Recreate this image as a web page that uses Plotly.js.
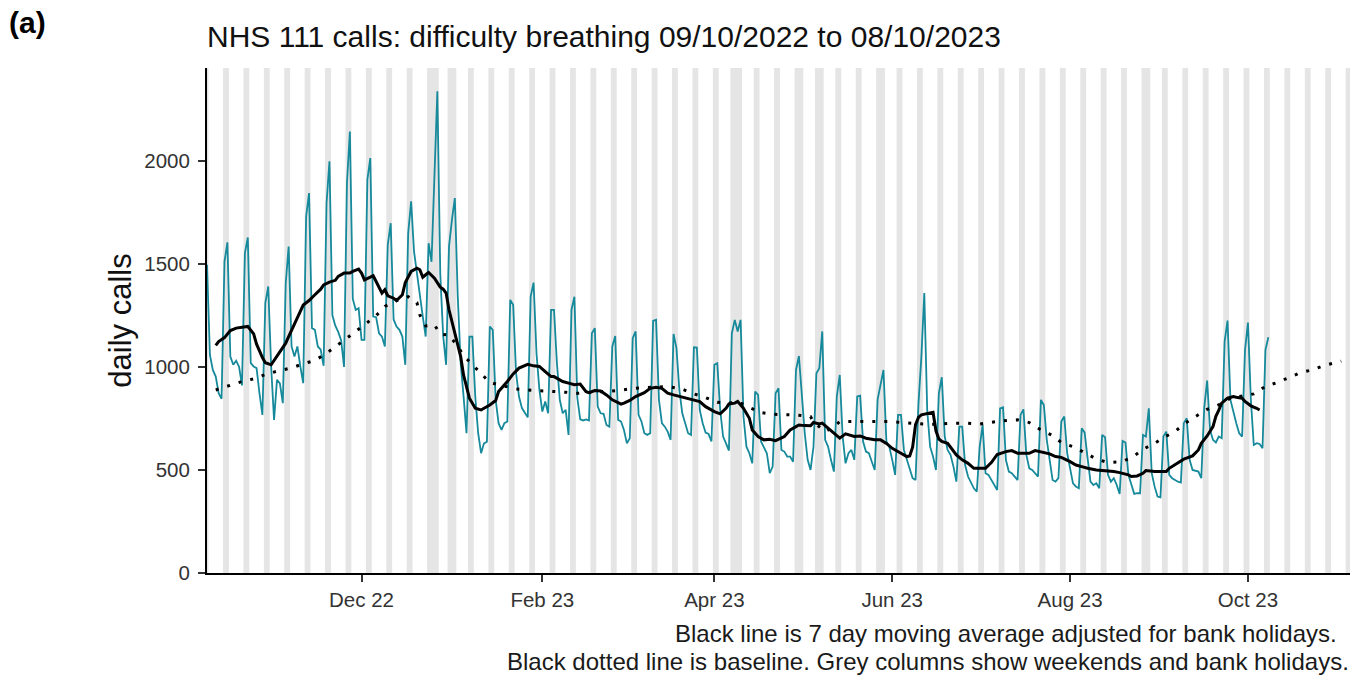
<!DOCTYPE html>
<html>
<head>
<meta charset="utf-8">
<script src="https://cdn.plot.ly/plotly-3.0.1.min.js"></script>
<style>
html,body{margin:0;padding:0;background:#ffffff;}
#chart{width:1362px;height:675px;}
</style>
</head>
<body>
<div id="chart"></div>
<script>
// ---------------- DATA ----------------
// First day of the daily series (Sunday 9 Oct 2022) and the axis window
const seriesStart = '2022-10-09';
const axisStart = '2022-10-09';
const axisEnd = '2023-11-05';

// Daily NHS 111 calls, difficulty breathing. First value = Sun 9 Oct 2022,
// then one row per week (Mon..Sun), last value = Sun 8 Oct 2023
const dailyCalls = [
  1495,
  1058, 985, 953, 872, 845, 1511, 1604,
  1050, 1010, 1030, 1000, 910, 1552, 1628,
  1018, 1002, 994, 872, 767, 1309, 1390,
  1000, 743, 937, 920, 824, 1406, 1584,
  1099, 1050, 1099, 1002, 921, 1730, 1843,
  1188, 1180, 1099, 1083, 1005, 1794, 1997,
  1250, 1200, 1170, 1130, 1000, 1892, 2142,
  1330, 1277, 1285, 1131, 1131, 1908, 2013,
  1244, 1241, 1163, 1147, 1099, 1592, 1697,
  1230, 1196, 1180, 1147, 1010, 1649, 1803,
  1560, 1455, 1341, 1244, 1147, 1600, 1510,
  1900, 2337, 1450, 1150, 1010, 1584, 1713,
  1819, 1341, 1018, 856, 678, 1147, 1147,
  856, 678, 581, 629, 637, 1196, 1180,
  840, 727, 694, 727, 735, 1325, 1301,
  969, 856, 800, 775, 755, 1341, 1409,
  1066, 888, 783, 832, 775, 1277, 1277,
  1018, 840, 775, 791, 670, 1277, 1340,
  850, 745, 740, 745, 740, 1163, 1188,
  807, 775, 772, 718, 710, 1099, 1150,
  743, 735, 694, 629, 654, 1139, 1172,
  767, 735, 678, 670, 678, 1223, 1228,
  840, 727, 710, 686, 646, 1160, 1091,
  888, 775, 727, 678, 670, 1095, 1094,
  791, 727, 681, 675, 638, 1010, 1018,
  791, 662, 629, 594, 1163, 1228, 1172,
  1228, 759, 613, 581, 532, 880, 864,
  638, 613, 581, 484, 516, 872, 896,
  597, 589, 565, 565, 540, 985, 1053,
  872, 678, 549, 500, 613, 969, 994,
  1172, 646, 613, 549, 492, 856, 961,
  662, 532, 581, 597, 549, 856, 860,
  638, 589, 581, 540, 500, 843, 913,
  985, 638, 613, 549, 476, 767, 767,
  597, 549, 500, 460, 451, 820, 1050,
  1358, 791, 613, 565, 500, 872, 950,
  662, 597, 573, 516, 443, 710, 710,
  524, 468, 443, 411, 395, 613, 718,
  484, 476, 451, 427, 403, 799, 804,
  548, 492, 484, 468, 451, 767, 794,
  573, 508, 500, 484, 468, 840, 815,
  646, 552, 451, 443, 460, 735, 759,
  581, 516, 435, 419, 411, 702, 681,
  557, 443, 427, 435, 411, 670, 659,
  476, 443, 460, 427, 384, 641, 633,
  476, 435, 384, 387, 387, 670, 662,
  799, 484, 419, 371, 367, 662, 686,
  476, 460, 451, 443, 439, 727, 751,
  549, 500, 497, 492, 460, 800, 934,
  694, 646, 633, 662, 654, 1123, 1225,
  840, 775, 727, 678, 662, 1083, 1215,
  840, 621, 630, 626, 605, 1083, 1144
];

// 7 day moving average (adjusted for bank holidays): day number since seriesStart, value
const maDay = [3,4,6,8,10,12,14,16,17,19,20,22,23,25,27,28,30,32,33,35,37,39,40,42,44,45,47,49,50,52,53,54,56,57,58,60,61,62,64,65,67,68,70,72,73,74,75,76,78,80,81,82,83,85,87,88,90,92,94,95,97,99,100,103,105,107,110,112,114,116,118,119,121,122,124,126,128,130,131,133,135,137,139,142,143,145,147,150,152,154,156,158,160,163,166,169,171,174,176,178,179,181,182,184,186,187,189,191,193,195,198,200,202,203,205,207,208,210,211,213,215,217,219,222,224,226,229,231,233,235,238,240,241,242,243,244,245,247,249,250,251,252,254,257,259,261,263,265,267,269,271,274,276,278,280,282,284,286,289,291,293,296,298,300,302,305,307,309,311,313,316,317,319,321,322,325,327,329,330,333,335,338,340,341,343,345,346,347,348,350,352,353,355,356,358,360,361];
const maValue = [1104,1123,1142,1176,1188,1192,1196,1160,1110,1045,1020,1010,1030,1070,1115,1147,1212,1269,1300,1322,1350,1377,1398,1411,1420,1439,1455,1455,1463,1474,1455,1422,1435,1442,1414,1358,1374,1345,1333,1322,1350,1409,1463,1479,1471,1435,1447,1458,1430,1387,1377,1358,1277,1163,1050,960,848,799,791,799,815,837,880,929,966,994,1012,1005,1002,977,953,953,937,929,921,913,917,880,875,885,883,864,840,819,824,837,856,875,896,901,896,872,864,853,843,832,807,783,772,799,820,824,832,799,751,694,662,646,649,642,662,694,710,718,715,714,730,723,727,702,678,654,675,662,665,654,646,646,629,605,581,565,568,610,720,755,767,775,780,690,650,638,629,573,549,532,508,508,508,536,575,589,594,581,581,581,594,589,578,565,561,540,524,516,508,500,497,497,492,487,476,468,471,484,497,492,492,492,508,532,552,568,597,629,665,710,760,790,824,848,856,853,848,832,811,799,791];

// Baseline (dotted): day number since seriesStart, value
const baselineDay = [3,8,12,16,20,24,29,33,37,41,44,48,51,55,58,61,65,69,72,73,75,78,80,83,86,88,91,94,97,101,106,110,114,119,123,127,132,137,141,145,150,154,158,163,167,171,175,179,182,186,190,194,198,202,207,208,212,215,217,222,226,230,234,238,242,247,251,256,260,265,269,273,278,282,286,290,293,297,301,305,309,314,318,321,325,328,332,335,339,343,347,351,359,363,367,371,375,379,383,387,389];
const baselineValue = [888,909,929,942,963,979,995,1015,1031,1066,1099,1139,1172,1215,1248,1293,1322,1341,1312,1252,1199,1204,1159,1155,1099,1055,1010,966,924,910,893,888,885,883,877,872,876,880,885,893,900,901,905,892,869,851,828,824,832,803,778,770,767,767,759,732,686,710,735,735,735,735,735,730,725,722,722,727,727,723,731,739,743,730,694,667,633,613,584,553,536,540,568,600,629,657,686,722,759,794,816,848,869,905,924,948,972,985,1006,1021,1028];

// Bank holidays (England) inside the window; weekends are added from the calendar
const bankHolidays = ['2022-12-26','2022-12-27','2023-01-02','2023-04-07','2023-04-10','2023-05-01','2023-05-08','2023-05-29','2023-08-28'];

// Axis ticks
const xTickDates = ['2022-12-01','2023-02-01','2023-04-01','2023-06-01','2023-08-01','2023-10-01'];
const xTickLabels = ['Dec 22','Feb 23','Apr 23','Jun 23','Aug 23','Oct 23'];
const yTickValues = [0, 500, 1000, 1500, 2000];
const yMax = 2450;

const titleText = 'NHS 111 calls: difficulty breathing 09/10/2022 to 08/10/2023';
const yTitleText = 'daily calls';
const panelLabel = '(a)';
const captionLines = [
  'Black line is 7 day moving average adjusted for bank holidays.',
  'Black dotted line is baseline. Grey columns show weekends and bank holidays.'
];

// ---------------- HELPERS ----------------
const DAY = 86400000;
function toMs(s){ const p = s.split('-').map(Number); return Date.UTC(p[0], p[1]-1, p[2]); }
function fmt(ms){
  const d = new Date(ms);
  const z = n => String(n).padStart(2,'0');
  return d.getUTCFullYear()+'-'+z(d.getUTCMonth()+1)+'-'+z(d.getUTCDate())+' '+z(d.getUTCHours())+':'+z(d.getUTCMinutes());
}
const startMs = toMs(seriesStart);
const dayToDate = k => fmt(startMs + k*DAY);

const dailyX = dailyCalls.map((_, i) => dayToDate(i));
const maX = maDay.map(dayToDate);
const baseX = baselineDay.map(dayToDate);

// Grey columns: weekends + bank holidays, merged into runs
const bhSet = new Set(bankHolidays.map(toMs));
const shapes = [];
let runStart = null, runEnd = null;
function pushRun(){
  shapes.push({type:'rect', xref:'x', yref:'paper', x0: fmt(runStart - DAY/2), x1: fmt(runEnd + DAY/2), y0:0, y1:1,
    fillcolor:'#E5E5E5', line:{width:0}, layer:'below'});
}
for (let t = toMs(axisStart) - DAY; t <= toMs(axisEnd) + DAY; t += DAY) {
  const dow = new Date(t).getUTCDay();
  const grey = dow === 0 || dow === 6 || bhSet.has(t);
  if (grey) {
    if (runStart === null) runStart = t;
    runEnd = t;
  } else if (runStart !== null) {
    pushRun();
    runStart = null;
  }
}
if (runStart !== null) pushRun();

// ---------------- TRACES ----------------
const traces = [
  {x: dailyX, y: dailyCalls, type:'scatter', mode:'lines', line:{color:'#16899B', width:1.8}, hoverinfo:'skip', name:'daily calls'},
  {x: baseX, y: baselineValue, type:'scatter', mode:'lines', line:{color:'#000000', width:3, dash:'3px,9px'}, hoverinfo:'skip', name:'baseline'},
  {x: maX, y: maValue, type:'scatter', mode:'lines', line:{color:'#000000', width:3}, hoverinfo:'skip', name:'7 day moving average'}
];

// ---------------- LAYOUT ----------------
const W = 1362, H = 675, ML = 207, MR = 12, MT = 68, MB = 102;
const PW = W - ML - MR, PH = H - MT - MB;
const px2paperX = px => (px - ML) / PW;
const px2paperY = py => (H - MB - py) / PH;

const layout = {
  width: W, height: H,
  margin: {l: ML, r: MR, t: MT, b: MB, pad: 0},
  paper_bgcolor: '#ffffff', plot_bgcolor: '#ffffff',
  showlegend: false,
  font: {family: '"Liberation Sans", Arial, sans-serif', color: '#1a1a1a'},
  title: {text: titleText, xref: 'paper', x: 0, xanchor: 'left', yref: 'container', y: 1 - 36/H, yanchor: 'middle',
    font: {size: 30, color: '#111111', family: '"Liberation Sans", Arial, sans-serif'}},
  xaxis: {
    type: 'date', range: [fmt(toMs(axisStart)), fmt(toMs(axisEnd))],
    showgrid: false, zeroline: false, showline: true, linecolor: '#000000', linewidth: 2,
    ticks: 'outside', ticklen: 7, tickwidth: 2, tickcolor: '#333333',
    tickmode: 'array', tickvals: xTickDates, ticktext: xTickLabels,
    tickfont: {size: 20.5, color: '#333333'}, fixedrange: true
  },
  yaxis: {
    range: [0, yMax], showgrid: false, zeroline: false, showline: true, linecolor: '#000000', linewidth: 2,
    ticks: 'outside', ticklen: 7, tickwidth: 2, tickcolor: '#333333',
    tickmode: 'array', tickvals: yTickValues, ticktext: yTickValues.map(String),
    tickfont: {size: 20.5, color: '#333333'}, ticklabelstandoff: 4, fixedrange: true,
    title: {text: yTitleText, font: {size: 31, color: '#111111'}, standoff: 3}
  },
  shapes: shapes,
  annotations: [
    {text: '<b>' + panelLabel + '</b>', xref: 'paper', yref: 'paper', x: px2paperX(7), y: px2paperY(23),
     xanchor: 'left', yanchor: 'middle', showarrow: false, font: {size: 30, color: '#000000'}},
    {text: captionLines[0], xref: 'paper', yref: 'paper', x: px2paperX(1339), y: px2paperY(633),
     xanchor: 'right', yanchor: 'middle', showarrow: false, font: {size: 24, color: '#1a1a1a'}},
    {text: captionLines[1], xref: 'paper', yref: 'paper', x: px2paperX(1351), y: px2paperY(661),
     xanchor: 'right', yanchor: 'middle', showarrow: false, font: {size: 24, color: '#1a1a1a'}}
  ]
};

Plotly.newPlot('chart', traces, layout, {displayModeBar: false, staticPlot: true});
</script>
</body>
</html>
